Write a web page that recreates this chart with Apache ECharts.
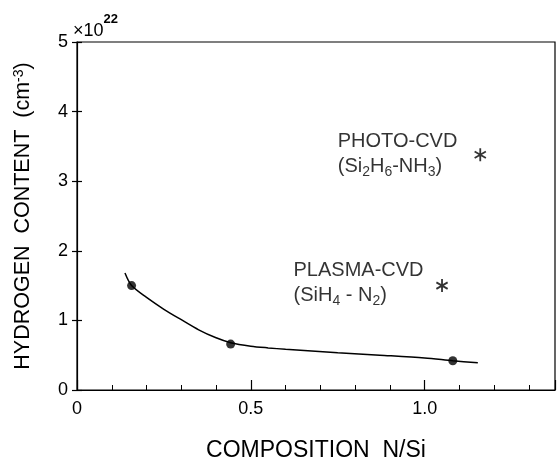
<!DOCTYPE html>
<html>
<head>
<meta charset="utf-8">
<script src="https://cdn.jsdelivr.net/npm/echarts@6/dist/echarts.min.js"></script>
<style>
  html, body { margin: 0; padding: 0; background: #fff; }
  #chart { width: 557px; height: 457px; }
</style>
</head>
<body>
<div id="chart"></div>
<script>
// Daten
var fitX = [0.138, 0.157, 0.2, 0.25, 0.3, 0.35, 0.4, 0.442, 0.5, 0.55, 0.6, 0.75, 0.871, 1.0, 1.081, 1.153];
var fitY = [1.68, 1.50, 1.33, 1.16, 1.01, 0.865, 0.75, 0.68, 0.63, 0.605, 0.585, 0.535, 0.50, 0.46, 0.42, 0.39];
var measX = [0.157, 0.442, 1.081];
var measY = [1.50, 0.66, 0.42];
var photoPt = [1.16, 3.38];
var plasmaPt = [1.05, 1.50];
var xTickLabels = {0: '0', 0.5: '0.5', 1: '1.0'};
var yTicks = [0, 1, 2, 3, 4, 5];

var FONT = 'Liberation Sans';

function pairs(xs, ys) {
	var out = [];
	for (var i = 0; i < xs.length; i++) out.push([xs[i], ys[i]]);
	return out;
}

// Sternchen als Pfad (drei Striche)
var star = 'path://M0,-10 L0,10 M-8.66,-5 L8.66,5 M-8.66,5 L8.66,-5';

var sub = { fontFamily: FONT, fontSize: 14, verticalAlign: 'bottom', padding: [9, 0, 0, 0], color: '#000' };
var txt = { fontFamily: FONT, fontSize: 20, color: '#000', lineHeight: 25 };

var chart = echarts.init(document.getElementById('chart'), null, {renderer: 'canvas'});

chart.setOption({
	animation: false,
	backgroundColor: '#fff',
	grid: {
		left: 77, right: 2, top: 42, bottom: 67,
		outerBoundsMode: 'none', containLabel: false,
		show: true, borderColor: '#000', borderWidth: 1.2
	},
	title: {
		text: '{a|\u00d710}{b|22}',
		left: 68, top: 8,
		textStyle: {
			rich: {
				a: { fontFamily: FONT, fontSize: 18, fontWeight: 'normal', color: '#000', padding: [9, 0, 0, 0] },
				b: { fontFamily: FONT, fontSize: 13, fontWeight: 'bold', color: '#000', verticalAlign: 'top' }
			}
		}
	},
	xAxis: [
		{
			type: 'value', min: 0, max: 1.375, interval: 0.5,
			splitLine: { show: false },
			axisLine: { lineStyle: { color: '#000', width: 1.2 } },
			axisTick: { inside: true, length: 10, lineStyle: { color: '#000', width: 1.2 } },
			axisLabel: {
				margin: 10, fontFamily: FONT, fontSize: 18, color: '#000',
				formatter: function (v) { return xTickLabels[v] !== undefined ? xTickLabels[v] : ''; }
			},
			name: 'COMPOSITION  N/Si',
			nameLocation: 'middle', nameGap: 49,
			nameTextStyle: { fontFamily: FONT, fontSize: 23, color: '#000' }
		},
		{
			// kleine Teilstriche
			type: 'value', min: 0, max: 1.375, interval: 0.1, position: 'bottom',
			splitLine: { show: false },
			axisLine: { show: false },
			axisTick: { inside: true, length: 5, lineStyle: { color: '#000', width: 1 } },
			axisLabel: { show: false }
		}
	],
	yAxis: [
		{
			type: 'value', min: 0, max: 5, interval: 1,
			splitLine: { show: false },
			axisLine: { lineStyle: { color: '#000', width: 1.2 } },
			axisTick: { inside: true, length: 5, lineStyle: { color: '#000', width: 1.2 } },
			axisLabel: {
				margin: 9, fontFamily: FONT, fontSize: 18, color: '#000',
				formatter: function (v) { return yTicks.indexOf(v) >= 0 ? String(v) : ''; }
			},
			name: '{a|HYDROGEN  CONTENT  (cm}{b|-3}{a|)}',
			nameLocation: 'middle', nameGap: 43,
			nameTextStyle: {
				rich: {
					a: { fontFamily: FONT, fontSize: 21.5, color: '#000' },
					b: { fontFamily: FONT, fontSize: 14, color: '#000', verticalAlign: 'top' }
				}
			}
		},
		{
			type: 'value', min: 0, max: 5, interval: 1, position: 'right',
			splitLine: { show: false },
			axisLine: { show: false },
			axisTick: { inside: true, length: 5, lineStyle: { color: '#000', width: 1.2 } },
			axisLabel: { show: false }
		}
	],
	series: [
		{
			name: 'fit', type: 'line', smooth: 0.3, showSymbol: false, symbol: 'none',
			data: pairs(fitX, fitY),
			lineStyle: { color: '#000', width: 1.5 }
		},
		{
			name: 'measured', type: 'scatter', symbol: 'circle', symbolSize: 9,
			data: pairs(measX, measY),
			itemStyle: { color: '#000' }
		},
		{
			name: 'photo', type: 'scatter', symbol: star, symbolSize: 13, symbolKeepAspect: true,
			data: [photoPt],
			itemStyle: { color: '#000', borderColor: '#000', borderWidth: 1.8 },
			label: {
				show: true, position: [-136, -18], align: 'left', verticalAlign: 'top',
				formatter: '{a|PHOTO-CVD}\n{a|(Si}{s|2}{a|H}{s|6}{a|-NH}{s|3}{a|)}',
				rich: { a: txt, s: sub }
			}
		},
		{
			name: 'plasma', type: 'scatter', symbol: star, symbolSize: 13, symbolKeepAspect: true,
			data: [plasmaPt],
			itemStyle: { color: '#000', borderColor: '#000', borderWidth: 1.8 },
			label: {
				show: true, position: [-142, -20], align: 'left', verticalAlign: 'top',
				formatter: '{a|PLASMA-CVD}\n{a|(SiH}{s|4}{a| - N}{s|2}{a|)}',
				rich: { a: txt, s: sub }
			}
		}
	]
});
</script>
</body>
</html>
